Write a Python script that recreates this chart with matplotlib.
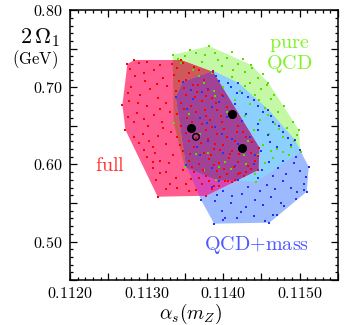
import matplotlib
matplotlib.use("Agg")
import matplotlib.pyplot as plt
from matplotlib.patches import Polygon
from matplotlib.ticker import MultipleLocator, FuncFormatter

plt.rcParams["mathtext.fontset"] = "cm"

# convex hull outlines (alpha_s, 2 Omega_1)
red_hull_x = [0.112750, 0.112842, 0.113447, 0.113868, 0.114474, 0.114461, 0.113776, 0.113145, 0.112724, 0.112684]
red_hull_y = [0.7301, 0.7353, 0.7353, 0.7198, 0.6215, 0.5930, 0.5594, 0.5581, 0.6448, 0.6771]
blue_hull_x = [0.113474, 0.113868, 0.114197, 0.114592, 0.114934, 0.115118, 0.115092, 0.114605, 0.113882, 0.113711, 0.113513, 0.113382]
blue_hull_y = [0.7069, 0.7211, 0.7056, 0.6706, 0.6318, 0.5969, 0.5646, 0.5245, 0.5232, 0.5542, 0.5995, 0.6875]
green_hull_x = [0.113342, 0.113816, 0.114368, 0.114592, 0.114987, 0.115013, 0.114434, 0.113908, 0.113500, 0.113355]
green_hull_y = [0.7418, 0.7534, 0.7288, 0.7056, 0.6448, 0.6163, 0.5775, 0.5801, 0.5969, 0.6538]

# fit points
red_pts = [
    (0.11290, 0.731), (0.11300, 0.733), (0.11318, 0.729), (0.11310, 0.722), (0.11285, 0.715),
    (0.11298, 0.708), (0.11322, 0.712), (0.11280, 0.700), (0.11305, 0.698), (0.11327, 0.701),
    (0.11292, 0.690), (0.11315, 0.686), (0.11277, 0.682), (0.11300, 0.676), (0.11325, 0.679),
    (0.11288, 0.667), (0.11310, 0.664), (0.11330, 0.668), (0.11283, 0.655), (0.11302, 0.650),
    (0.11320, 0.655), (0.11295, 0.640), (0.11315, 0.637), (0.11332, 0.642), (0.11290, 0.628),
    (0.11308, 0.622), (0.11326, 0.627), (0.11300, 0.610), (0.11318, 0.605), (0.11335, 0.612),
    (0.11308, 0.595), (0.11325, 0.590), (0.11312, 0.580), (0.11330, 0.575), (0.11325, 0.568),
    (0.11340, 0.570), (0.11355, 0.565),
    (0.11340, 0.725), (0.11355, 0.718), (0.11368, 0.722), (0.11342, 0.708), (0.11360, 0.703),
    (0.11375, 0.710), (0.11338, 0.695), (0.11352, 0.690), (0.11366, 0.694), (0.11380, 0.697),
    (0.11345, 0.680), (0.11358, 0.676), (0.11372, 0.682), (0.11386, 0.686), (0.11398, 0.690),
    (0.11340, 0.665), (0.11353, 0.660), (0.11365, 0.668), (0.11378, 0.663), (0.11392, 0.670),
    (0.11405, 0.675), (0.11345, 0.650), (0.11360, 0.645), (0.11372, 0.652), (0.11385, 0.648),
    (0.11398, 0.655), (0.11410, 0.660), (0.11420, 0.650), (0.11340, 0.635), (0.11355, 0.630),
    (0.11368, 0.638), (0.11380, 0.633), (0.11392, 0.640), (0.11405, 0.636), (0.11418, 0.642),
    (0.11430, 0.635), (0.11348, 0.618), (0.11362, 0.622), (0.11375, 0.615), (0.11388, 0.620),
    (0.11400, 0.625), (0.11412, 0.618), (0.11425, 0.622), (0.11437, 0.615), (0.11355, 0.605),
    (0.11368, 0.600), (0.11382, 0.607), (0.11395, 0.602), (0.11408, 0.608), (0.11420, 0.603),
    (0.11432, 0.598), (0.11362, 0.590), (0.11378, 0.585), (0.11392, 0.592), (0.11405, 0.587),
    (0.11420, 0.588), (0.11430, 0.590), (0.11372, 0.575), (0.11388, 0.572), (0.11402, 0.578),
    (0.11415, 0.580), (0.11385, 0.568),
    (0.11279, 0.7242), (0.11296, 0.7186), (0.11313, 0.7047), (0.11276, 0.6931), (0.11289, 0.6792),
    (0.11318, 0.6718), (0.11276, 0.6609), (0.11297, 0.6583), (0.11321, 0.6473), (0.11284, 0.6354),
    (0.11303, 0.6301), (0.11296, 0.6185), (0.11311, 0.6142), (0.11329, 0.6021), (0.11308, 0.6036),
    (0.11317, 0.5887), (0.11338, 0.5826), (0.11347, 0.5927), (0.11352, 0.5743), (0.11364, 0.5668),
    (0.11333, 0.7302), (0.11347, 0.7313), (0.11362, 0.7264), (0.11336, 0.7157), (0.11351, 0.7096),
    (0.11367, 0.7025), (0.11349, 0.6993), (0.11363, 0.6873), (0.11377, 0.6891), (0.11391, 0.6798),
    (0.11349, 0.6714), (0.11359, 0.6552), (0.11376, 0.6702), (0.11383, 0.6571), (0.11397, 0.6627),
    (0.11413, 0.6688), (0.11351, 0.6413), (0.11364, 0.6344), (0.11377, 0.6447), (0.11389, 0.6268),
    (0.11401, 0.6463), (0.11415, 0.6302), (0.11426, 0.6423), (0.11438, 0.6291), (0.11344, 0.6253),
    (0.11357, 0.6137), (0.11371, 0.6281), (0.11384, 0.6119), (0.11396, 0.6186), (0.11409, 0.6131),
    (0.11421, 0.6137), (0.11441, 0.6043), (0.11359, 0.5972), (0.11374, 0.5928), (0.11388, 0.5986),
    (0.11401, 0.5943), (0.11414, 0.5961), (0.11427, 0.5848), (0.11368, 0.5822), (0.11381, 0.5784),
    (0.11396, 0.5842), (0.11411, 0.5773), (0.11422, 0.5890), (0.11394, 0.5722), (0.11407, 0.5790),
    (0.11358, 0.5806), (0.11436, 0.5938), (0.11445, 0.6112),
]
blue_pts = [
    (0.11395, 0.708), (0.11410, 0.700), (0.11380, 0.698), (0.11425, 0.693), (0.11400, 0.688),
    (0.11360, 0.685), (0.11440, 0.683), (0.11415, 0.678), (0.11385, 0.675), (0.11452, 0.668),
    (0.11430, 0.665), (0.11405, 0.662), (0.11370, 0.660), (0.11465, 0.655), (0.11445, 0.652),
    (0.11420, 0.650), (0.11390, 0.648), (0.11360, 0.645), (0.11478, 0.642), (0.11458, 0.638),
    (0.11435, 0.635), (0.11412, 0.633), (0.11380, 0.630), (0.11488, 0.625), (0.11470, 0.622),
    (0.11450, 0.618), (0.11428, 0.620), (0.11400, 0.615), (0.11370, 0.612), (0.11495, 0.610),
    (0.11478, 0.605), (0.11460, 0.603), (0.11440, 0.600), (0.11415, 0.598), (0.11385, 0.595),
    (0.11500, 0.592), (0.11482, 0.588), (0.11465, 0.585), (0.11445, 0.583), (0.11420, 0.580),
    (0.11395, 0.578), (0.11505, 0.575), (0.11488, 0.570), (0.11468, 0.568), (0.11448, 0.565),
    (0.11425, 0.562), (0.11400, 0.565), (0.11392, 0.560), (0.11495, 0.555), (0.11475, 0.550),
    (0.11452, 0.548), (0.11430, 0.545), (0.11410, 0.550), (0.11398, 0.540), (0.11480, 0.546),
    (0.11465, 0.535), (0.11440, 0.533), (0.11418, 0.530), (0.11400, 0.528), (0.11455, 0.527),
    (0.11391, 0.7148), (0.11407, 0.7054), (0.11372, 0.6932), (0.11433, 0.6872), (0.11418, 0.6927),
    (0.11446, 0.6753), (0.11395, 0.6814), (0.11462, 0.6622), (0.11424, 0.6567), (0.11379, 0.6535),
    (0.11473, 0.6493), (0.11446, 0.6441), (0.11398, 0.6388), (0.11485, 0.6342), (0.11461, 0.6291),
    (0.11419, 0.6268), (0.11501, 0.6187), (0.11441, 0.6121), (0.11492, 0.6016), (0.11451, 0.5927),
    (0.11472, 0.5955), (0.11508, 0.5842), (0.11478, 0.5781), (0.11433, 0.5712), (0.11457, 0.5737),
    (0.11411, 0.5592), (0.11389, 0.5524), (0.11462, 0.5582), (0.11442, 0.5543), (0.11497, 0.5641),
    (0.11423, 0.5381), (0.11470, 0.5350), (0.11402, 0.5300), (0.11505, 0.5671), (0.11385, 0.5712),
    (0.11366, 0.6232), (0.11353, 0.6716), (0.11358, 0.6965),
]
green_pts = [
    (0.11350, 0.740), (0.11365, 0.745), (0.11390, 0.744), (0.11405, 0.738), (0.11420, 0.730),
    (0.11345, 0.732), (0.11372, 0.733), (0.11398, 0.728), (0.11428, 0.720), (0.11445, 0.712),
    (0.11360, 0.722), (0.11385, 0.718), (0.11412, 0.713), (0.11435, 0.705), (0.11450, 0.698),
    (0.11375, 0.706), (0.11400, 0.700), (0.11422, 0.695), (0.11442, 0.690), (0.11462, 0.685),
    (0.11390, 0.688), (0.11415, 0.683), (0.11435, 0.678), (0.11455, 0.673), (0.11472, 0.668),
    (0.11405, 0.668), (0.11428, 0.663), (0.11448, 0.658), (0.11468, 0.652), (0.11483, 0.647),
    (0.11420, 0.650), (0.11440, 0.645), (0.11460, 0.640), (0.11478, 0.635), (0.11492, 0.630),
    (0.11432, 0.630), (0.11452, 0.625), (0.11470, 0.620), (0.11488, 0.622), (0.11445, 0.612),
    (0.11465, 0.608), (0.11478, 0.6165), (0.11430, 0.600), (0.11455, 0.602), (0.11410, 0.594),
    (0.11395, 0.596), (0.11370, 0.640), (0.11355, 0.665), (0.11380, 0.615), (0.11365, 0.614),
    (0.11341, 0.7371), (0.11357, 0.7488), (0.11376, 0.7412), (0.11411, 0.7452), (0.11426, 0.7362),
    (0.11393, 0.7352), (0.11438, 0.7246), (0.11452, 0.7178), (0.11413, 0.7223), (0.11368, 0.7141),
    (0.11457, 0.7029), (0.11428, 0.7013), (0.11388, 0.6957), (0.11467, 0.6897), (0.11447, 0.6833),
    (0.11479, 0.6752), (0.11459, 0.6641), (0.11491, 0.6553), (0.11473, 0.6462), (0.11497, 0.6382),
    (0.11486, 0.6123), (0.11463, 0.6172), (0.11427, 0.6121), (0.11402, 0.6036), (0.11442, 0.5872),
    (0.11375, 0.5931),
]

# best fit values
best_x = [0.113579, 0.114118, 0.114246]
best_y = [0.6477, 0.6651, 0.6211]
open_x = [0.113645]
open_y = [0.6357]

# region colours (single sets and overlaps)
c_red, c_blue, c_green = "#ff5c8f", "#9ebaff", "#c4f8a4"
c_rg, c_bg, c_rb, c_rbg = "#cf585c", "#8cd0ff", "#d945b5", "#a04296"


def clip(subject, clipper):
    # Sutherland-Hodgman for a convex clipper
    area = sum(clipper[i][0] * clipper[i - 1][1] - clipper[i - 1][0] * clipper[i][1]
               for i in range(len(clipper)))
    sign = -1 if area > 0 else 1
    out = list(subject)
    n = len(clipper)
    for i in range(n):
        a, b = clipper[i], clipper[(i + 1) % n]

        def side(p):
            return sign * ((b[0] - a[0]) * (p[1] - a[1]) - (b[1] - a[1]) * (p[0] - a[0]))

        inp, out = out, []
        if not inp:
            break
        for j in range(len(inp)):
            p, q = inp[j - 1], inp[j]
            sp, sq = side(p), side(q)
            if sq >= 0:
                if sp < 0:
                    t = sp / (sp - sq)
                    out.append((p[0] + t * (q[0] - p[0]), p[1] + t * (q[1] - p[1])))
                out.append(q)
            elif sp >= 0:
                t = sp / (sp - sq)
                out.append((p[0] + t * (q[0] - p[0]), p[1] + t * (q[1] - p[1])))
    return out


fig = plt.figure(figsize=(3.44, 3.25), dpi=100)
ax = fig.add_axes([0.2035, 0.138, 0.779, 0.831])

red = list(zip(red_hull_x, red_hull_y))
blue = list(zip(blue_hull_x, blue_hull_y))
green = list(zip(green_hull_x, green_hull_y))

regions = [
    (green, c_green), (blue, c_blue), (red, c_red),
    (clip(red, green), c_rg), (clip(blue, green), c_bg), (clip(red, blue), c_rb),
    (clip(clip(red, blue), green), c_rbg),
]
for poly, col in regions:
    if len(poly) > 2:
        ax.add_patch(Polygon(poly, closed=True, facecolor=col, edgecolor="none", zorder=1))


def dots(pts, hx, hy, col):
    xs = [p[0] for p in pts] + hx
    ys = [p[1] for p in pts] + hy
    ax.scatter(xs, ys, s=4, marker="s", color=col, linewidths=0, zorder=2)


dots(green_pts, green_hull_x, green_hull_y, "#55dd00")
dots(blue_pts, blue_hull_x, blue_hull_y, "#2233ff")
dots(red_pts, red_hull_x, red_hull_y, "#ff0000")

ax.scatter(best_x, best_y, s=30, color="black", zorder=5)
ax.scatter(open_x, open_y, s=22, facecolor="none", edgecolor="black", linewidths=1, zorder=5)

ax.set_xlim(0.1120, 0.1155)
ax.set_ylim(0.45, 0.80)

ax.xaxis.set_major_locator(MultipleLocator(0.0005))
ax.xaxis.set_minor_locator(MultipleLocator(0.0001))
ax.yaxis.set_major_locator(MultipleLocator(0.05))
ax.yaxis.set_minor_locator(MultipleLocator(0.01))


def xfmt(v, _):
    if abs(round(v / 0.001) * 0.001 - v) < 1e-7:
        return f"${v:.4f}$"
    return ""


def yfmt(v, _):
    if abs(round(v / 0.1) * 0.1 - v) < 1e-7:
        return f"${v:.2f}$"
    return ""


ax.xaxis.set_major_formatter(FuncFormatter(xfmt))
ax.yaxis.set_major_formatter(FuncFormatter(yfmt))
ax.tick_params(which="both", direction="in", top=True, right=True, labelsize=11.5, width=0.9)
ax.tick_params(axis="x", which="major", length=5, pad=4)
ax.tick_params(axis="y", which="major", length=5, pad=5)
ax.tick_params(which="minor", length=2.5)
for sp in ax.spines.values():
    sp.set_linewidth(1.1)

ax.text(0.112526, 0.5982, r"$\mathrm{full}$", color=(1.0, 0.2, 0.2), fontsize=14.5, ha="center", va="center")
ax.text(0.11486, 0.7556, r"$\mathrm{pure}$", color=(0.5, 0.95, 0.15), fontsize=14.5, ha="center", va="center")
ax.text(0.11486, 0.7298, r"$\mathrm{QCD}$", color=(0.5, 0.95, 0.15), fontsize=14.5, ha="center", va="center")
ax.text(0.11444, 0.4960, r"$\mathrm{QCD{+}mass}$", color=(0.3, 0.35, 1.0), fontsize=14.5, ha="center", va="center")

fig.text(40 / 344, 1 - 38 / 325, r"$2\,\Omega_1$", fontsize=16, ha="center", va="center")
fig.text(35 / 344, 1 - 60 / 325, r"$\mathrm{(GeV)}$", fontsize=12, ha="center", va="center")
fig.text(190 / 344, 1 - 314 / 325, r"$\alpha_s(m_Z)$", fontsize=14, ha="center", va="center")

fig.savefig("out.png", dpi=100)
